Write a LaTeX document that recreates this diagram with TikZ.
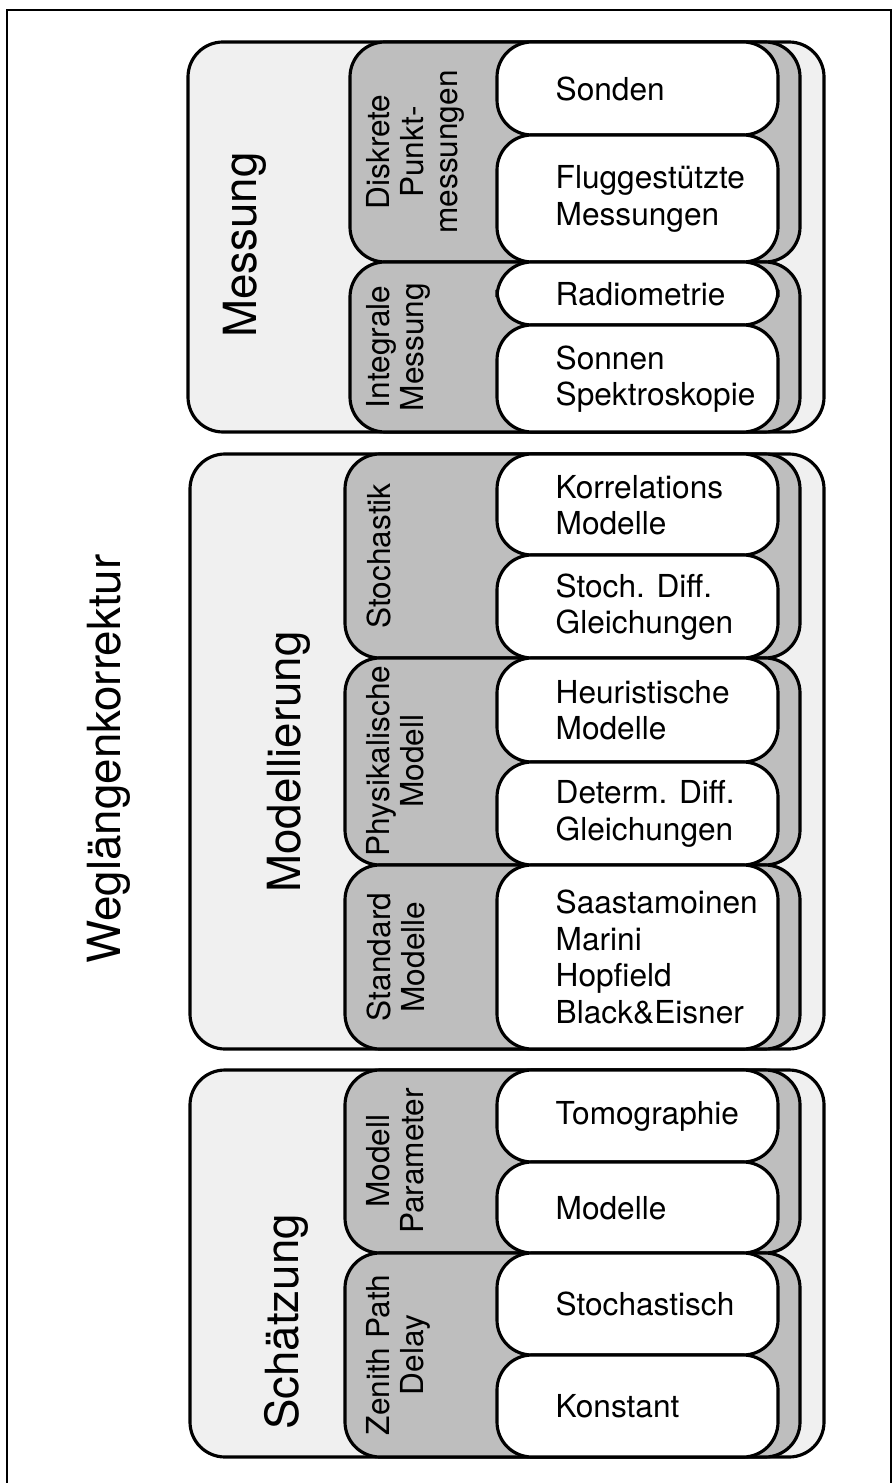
\documentclass[tikz,border=0pt]{standalone}
\usepackage{fontspec}
\setmainfont{TeX Gyre Heros}
\usepackage{tikz}
\definecolor{paper}{HTML}{F0F0F0}
\definecolor{shade}{HTML}{BEBEBE}

\tikzset{
  card/.style={draw=black,line width=0.9pt,rounded corners=3.5mm},
  grpcard/.style={card,fill=paper},
  subcard/.style={card,fill=shade},
  itemcard/.style={card,fill=white},
  bigtitle/.style={rotate=90,inner sep=0pt,font=\fontsize{13}{15}\selectfont},
  sublabel/.style={rotate=90,anchor=north,inner sep=0pt,align=center,
    font=\fontsize{9}{9.6}\selectfont},
  itemtext/.style={anchor=west,inner sep=0pt,align=left,
    font=\fontsize{9}{10.4}\selectfont}
}

\begin{document}
\begin{tikzpicture}[x=0.1mm,y=-0.1mm]
    \useasboundingbox (0,0) rectangle (893,1483);
    \draw[line width=0.6pt] (7,1483) -- (7,10) -- (891,10) -- (891,1483);
    \node[bigtitle] (wk) at (109,759) {Weglängenkorrektur};

    % Messung
    \draw[grpcard] (188,42) rectangle (824,432);
    \draw[subcard] (350,42) rectangle (800,262);
    \draw[subcard] (350,262) rectangle (800,432);
    \draw[itemcard] (497,42) rectangle (778,135);
    \draw[itemcard] (497,135) rectangle (778,262);
    \draw[itemcard] (497,262) rectangle (778,325);
    \draw[itemcard] (497,325) rectangle (778,432);
    \node[bigtitle,anchor=north] (mess) at (222,245) {Messung};
    \node[sublabel] (diskret) at (366,152) {Diskrete\\Punkt-\\messungen};
    \node[sublabel] (integral) at (366,347) {Integrale\\Messung};
    \node[itemtext] (sonden) at (555,89) {Sonden};
    \node[itemtext] (flug) at (555,199) {Fluggestützte\\Messungen};
    \node[itemtext] (radio) at (555,294) {Radiometrie};
    \node[itemtext] (sonne) at (555,379) {Sonnen\\Spektroskopie};

    % Modellierung
    \draw[grpcard] (190,454) rectangle (824,1049);
    \draw[subcard] (345,454) rectangle (800,658);
    \draw[subcard] (345,658) rectangle (800,865);
    \draw[subcard] (345,865) rectangle (800,1049);
    \draw[itemcard] (497,454) rectangle (778,555);
    \draw[itemcard] (497,555) rectangle (778,658);
    \draw[itemcard] (497,658) rectangle (778,762);
    \draw[itemcard] (497,762) rectangle (778,865);
    \draw[itemcard] (497,865) rectangle (778,1049);
    \node[bigtitle,anchor=north] (model) at (266,762) {Modellierung};
    \node[sublabel] (stoch) at (366,556) {Stochastik};
    \node[sublabel] (phys) at (366,761) {Physikalische\\Modell};
    \node[sublabel] (std) at (366,957) {Standard\\Modelle};
    \node[itemtext] (korr) at (555,505) {Korrelations\\Modelle};
    \node[itemtext] (sdiff) at (555,607) {Stoch. Diff.\\Gleichungen};
    \node[itemtext] (heur) at (555,710) {Heuristische\\Modelle};
    \node[itemtext] (ddiff) at (555,814) {Determ. Diff.\\Gleichungen};
    \node[itemtext] (saast) at (555,957) {Saastamoinen\\Marini\\Hopfield\\Black\&Eisner};

    % Schaetzung
    \draw[grpcard] (190,1070) rectangle (824,1457);
    \draw[subcard] (345,1070) rectangle (800,1253);
    \draw[subcard] (345,1253) rectangle (800,1457);
    \draw[itemcard] (497,1070) rectangle (778,1162);
    \draw[itemcard] (497,1162) rectangle (778,1253);
    \draw[itemcard] (497,1253) rectangle (778,1355);
    \draw[itemcard] (497,1355) rectangle (778,1457);
    \node[bigtitle,anchor=north] (schaetz) at (264,1322) {Schätzung};
    \node[sublabel] (param) at (366,1161) {Modell\\Parameter};
    \node[sublabel] (zpd) at (366,1355) {Zenith Path\\Delay};
    \node[itemtext] (tomo) at (555,1116) {Tomographie};
    \node[itemtext] (mods) at (555,1208) {Modelle};
    \node[itemtext] (stoc) at (555,1304) {Stochastisch};
    \node[itemtext] (konst) at (555,1406) {Konstant};
\end{tikzpicture}
\end{document}
